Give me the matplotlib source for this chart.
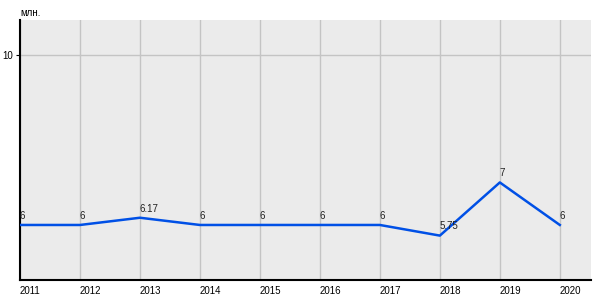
import matplotlib
matplotlib.use('Agg')
import matplotlib.pyplot as plt

years = [2011, 2012, 2013, 2014, 2015, 2016, 2017, 2018, 2019, 2020]
values = [6, 6, 6.17, 6, 6, 6, 6, 5.75, 7, 6]
labels = ['6', '6', '6.17', '6', '6', '6', '6', '5.75', '7', '6']

plt.rcParams['font.family'] = ['Liberation Sans', 'DejaVu Sans']

fig = plt.figure(figsize=(6, 3), dpi=100)
ax = fig.add_axes([20/600, 20/300, 571/600, 260/300])
ax.set_facecolor('#ebebeb')

ax.plot(years, values, color='#0050e6', linewidth=1.8, zorder=3)
for x, y, t in zip(years, values, labels):
    ax.annotate(t, (x, y), xytext=(0, 3), textcoords='offset points',
                ha='left', va='bottom', fontsize=7, color='#222222')

ax.set_xlim(2011, 2020.52)
ax.set_ylim(4.706, 10.82)
ax.set_xticks(years)
ax.set_xticklabels([str(y) for y in years], ha='left', fontsize=7)
ax.set_yticks([10])
ax.set_yticklabels(['10'], fontsize=7)
ax.grid(True, color='#c4c4c4', linewidth=1)
ax.set_axisbelow(True)

for s in ['top', 'right']:
    ax.spines[s].set_visible(False)
ax.spines['left'].set_linewidth(1.5)
ax.spines['bottom'].set_linewidth(1.5)
ax.tick_params(axis='x', length=0, pad=4)
ax.tick_params(axis='y', length=3, pad=2)

fig.text(20/600, 1 - 13/300, 'млн.', fontsize=7, va='center', ha='left')

fig.savefig('out.png', dpi=100)
